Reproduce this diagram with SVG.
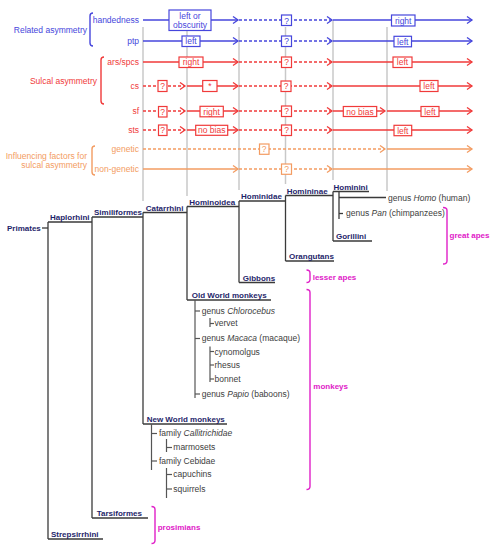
<svg xmlns="http://www.w3.org/2000/svg" width="496" height="550" viewBox="0 0 496 550">
<style>
text{font-family:"Liberation Sans",Arial,sans-serif;font-size:8.5px}
.tb{fill:#4646dc}.tr{fill:#f03a3a}.to{fill:#f39c62}
.nv{fill:#1f1f6b;font-weight:bold;font-size:8px}
.mg{fill:#e020c8;font-weight:bold;font-size:8px}
.tx{fill:#404040}
.m{text-anchor:middle}.e{text-anchor:end}
.ln{fill:none;stroke-width:1.5}
.B{stroke:#4646dc}.R{stroke:#f03a3a}.O{stroke:#f39c62}
.d{stroke-dasharray:3,2}
.bx{fill:#fff;stroke-width:1.2}
.gr{stroke:#c8c8c8;stroke-width:1.5;fill:none}
.tree{stroke:#3a3a3a;stroke-width:1.3;fill:none}
.sub{stroke:#555;stroke-width:1.2;fill:none}
.br{fill:none;stroke-width:1.4}
.mb{stroke:#e020c8}
</style>
<defs>
<marker id="aB" markerUnits="userSpaceOnUse" markerWidth="8" markerHeight="9" refX="6.5" refY="4.5" orient="auto"><path d="M1.5,1 L6.5,4.5 L1.5,8" fill="none" stroke="#4646dc" stroke-width="1.3"/></marker>
<marker id="aR" markerUnits="userSpaceOnUse" markerWidth="8" markerHeight="9" refX="6.5" refY="4.5" orient="auto"><path d="M1.5,1 L6.5,4.5 L1.5,8" fill="none" stroke="#f03a3a" stroke-width="1.3"/></marker>
<marker id="aO" markerUnits="userSpaceOnUse" markerWidth="8" markerHeight="9" refX="6.5" refY="4.5" orient="auto"><path d="M1.5,1 L6.5,4.5 L1.5,8" fill="none" stroke="#f39c62" stroke-width="1.3"/></marker>
</defs>

<!-- gray vertical guide lines -->
<g id="guides" class="gr">
<line x1="143" y1="27" x2="143" y2="201"/>
<line x1="187" y1="27" x2="187" y2="196"/>
<line x1="239" y1="27" x2="239" y2="190"/>
<line x1="285.5" y1="27" x2="285.5" y2="184"/>
<line x1="333" y1="20" x2="333" y2="180"/>
<line x1="387" y1="27" x2="387" y2="191"/>
</g>

<!-- left labels -->
<g id="label-related">
<text class="tb e" x="87" y="33">Related asymmetry</text>
<path class="br B" d="M93,13 Q90,13 90,16 V43 Q90,46 93,46"/>
</g>
<g id="label-sulcal">
<text class="tr e" x="97" y="84">Sulcal asymmetry</text>
<path class="br R" d="M104,57 Q101,57 101,60 V101 Q101,104 104,104"/>
</g>
<g id="label-factors">
<text class="to e" x="87" y="158.5">Influencing factors for</text>
<text class="to e" x="87" y="167.5">sulcal asymmetry</text>
<path class="br O" d="M95,146 Q92,146 92,149 V172 Q92,175 95,175"/>
</g>

<!-- connectors: trait arrows and tree -->
<g id="connectors">
<!-- handedness -->
<line class="ln B" x1="143" y1="20" x2="238" y2="20" marker-end="url(#aB)"/>
<line class="ln B d" x1="239" y1="20" x2="332" y2="20" marker-end="url(#aB)"/>
<line class="ln B" x1="333" y1="20" x2="472" y2="20" marker-end="url(#aB)"/>
<!-- ptp -->
<line class="ln B" x1="143" y1="41" x2="238" y2="41" marker-end="url(#aB)"/>
<line class="ln B d" x1="239" y1="41" x2="332" y2="41" marker-end="url(#aB)"/>
<line class="ln B" x1="333" y1="41" x2="472" y2="41" marker-end="url(#aB)"/>
<!-- ars/spcs -->
<line class="ln R" x1="143" y1="62" x2="238" y2="62" marker-end="url(#aR)"/>
<line class="ln R d" x1="239" y1="62" x2="332" y2="62" marker-end="url(#aR)"/>
<line class="ln R" x1="333" y1="62" x2="472" y2="62" marker-end="url(#aR)"/>
<!-- cs -->
<line class="ln R d" x1="143" y1="86" x2="185" y2="86" marker-end="url(#aR)"/>
<line class="ln R" x1="187" y1="86" x2="238" y2="86" marker-end="url(#aR)"/>
<line class="ln R d" x1="239" y1="86" x2="332" y2="86" marker-end="url(#aR)"/>
<line class="ln R" x1="333" y1="86" x2="472" y2="86" marker-end="url(#aR)"/>
<!-- sf -->
<line class="ln R d" x1="143" y1="111" x2="185" y2="111" marker-end="url(#aR)"/>
<line class="ln R" x1="187" y1="111" x2="238" y2="111" marker-end="url(#aR)"/>
<line class="ln R d" x1="239" y1="111" x2="332" y2="111" marker-end="url(#aR)"/>
<line class="ln R" x1="333" y1="111" x2="385" y2="111" marker-end="url(#aR)"/>
<line class="ln R" x1="387" y1="111" x2="472" y2="111" marker-end="url(#aR)"/>
<!-- sts -->
<line class="ln R d" x1="143" y1="130" x2="185" y2="130" marker-end="url(#aR)"/>
<line class="ln R" x1="187" y1="130" x2="238" y2="130" marker-end="url(#aR)"/>
<line class="ln R d" x1="239" y1="130" x2="332" y2="130" marker-end="url(#aR)"/>
<line class="ln R" x1="333" y1="130" x2="472" y2="130" marker-end="url(#aR)"/>
<!-- genetic -->
<line class="ln O d" x1="143" y1="149" x2="385" y2="149" marker-end="url(#aO)"/>
<line class="ln O" x1="387" y1="149" x2="472" y2="149" marker-end="url(#aO)"/>
<!-- non-genetic -->
<line class="ln O" x1="143" y1="169" x2="238" y2="169" marker-end="url(#aO)"/>
<line class="ln O d" x1="239" y1="169" x2="332" y2="169" marker-end="url(#aO)"/>
<line class="ln O" x1="333" y1="169" x2="472" y2="169" marker-end="url(#aO)"/>

<!-- tree -->
<g class="tree">
<line x1="42" y1="228" x2="48" y2="228"/>
<line x1="48" y1="222" x2="48" y2="539"/>
<line x1="48" y1="222" x2="92" y2="222"/>
<line x1="48" y1="539" x2="103" y2="539"/>
<line x1="92" y1="217" x2="92" y2="518"/>
<line x1="92" y1="217" x2="143" y2="217"/>
<line x1="92" y1="518" x2="148" y2="518"/>
<line x1="143" y1="212.5" x2="143" y2="424"/>
<line x1="143" y1="212.5" x2="187" y2="212.5"/>
<line x1="143" y1="424" x2="227" y2="424"/>
<line x1="187" y1="206.5" x2="187" y2="300"/>
<line x1="187" y1="206.5" x2="239" y2="206.5"/>
<line x1="187" y1="300" x2="271" y2="300"/>
<line x1="239" y1="201" x2="239" y2="282.5"/>
<line x1="239" y1="201" x2="285.5" y2="201"/>
<line x1="239" y1="282.5" x2="275" y2="282.5"/>
<line x1="285.5" y1="195.5" x2="285.5" y2="261"/>
<line x1="285.5" y1="195.5" x2="333" y2="195.5"/>
<line x1="285.5" y1="261" x2="334" y2="261"/>
<line x1="333" y1="191.5" x2="333" y2="241"/>
<line x1="333" y1="191.5" x2="369" y2="191.5"/>
<line x1="333" y1="241" x2="372" y2="241"/>
<line x1="339" y1="191.5" x2="339" y2="219"/>
<line x1="339" y1="197.5" x2="386" y2="197.5"/>
<line x1="339" y1="213.5" x2="343" y2="213.5"/>
</g>
<g class="sub">
<line x1="195" y1="300" x2="195" y2="398"/>
<line x1="195" y1="311" x2="200" y2="311"/>
<line x1="195" y1="338.5" x2="200" y2="338.5"/>
<line x1="195" y1="394" x2="200" y2="394"/>
<line x1="210" y1="318" x2="210" y2="327"/>
<line x1="210" y1="323.5" x2="214" y2="323.5"/>
<line x1="210" y1="346.5" x2="210" y2="382"/>
<line x1="210" y1="351.5" x2="214" y2="351.5"/>
<line x1="210" y1="365" x2="214" y2="365"/>
<line x1="210" y1="379" x2="214" y2="379"/>
<line x1="151.5" y1="424" x2="151.5" y2="470"/>
<line x1="151.5" y1="433.5" x2="157" y2="433.5"/>
<line x1="151.5" y1="461" x2="157" y2="461"/>
<line x1="166.5" y1="439" x2="166.5" y2="452"/>
<line x1="166.5" y1="447.5" x2="172" y2="447.5"/>
<line x1="166.5" y1="468" x2="166.5" y2="498"/>
<line x1="166.5" y1="474.5" x2="172" y2="474.5"/>
<line x1="166.5" y1="489" x2="172" y2="489"/>
</g>
</g>

<!-- row labels -->
<g id="row-handedness"><text class="tb e" x="139" y="23">handedness</text></g>
<g id="row-ptp"><text class="tb e" x="139" y="44">ptp</text></g>
<g id="row-ars"><text class="tr e" x="139" y="65">ars/spcs</text></g>
<g id="row-cs"><text class="tr e" x="139" y="89">cs</text></g>
<g id="row-sf"><text class="tr e" x="139" y="114">sf</text></g>
<g id="row-sts"><text class="tr e" x="139" y="133">sts</text></g>
<g id="row-genetic"><text class="to e" x="139" y="152">genetic</text></g>
<g id="row-nongenetic"><text class="to e" x="139" y="172">non-genetic</text></g>

<!-- value boxes -->
<g id="hand-1"><rect class="bx B" x="169" y="10" width="42" height="20.5"/><text class="tb m" x="190" y="18.5">left or</text><text class="tb m" x="190" y="27.5">obscurity</text></g>
<g id="hand-2"><rect class="bx B" x="281.5" y="15" width="10" height="10.5"/><text class="tb m" x="286.5" y="23.5">?</text></g>
<g id="hand-3"><rect class="bx B" x="391.5" y="15" width="23.5" height="11"/><text class="tb m" x="403.2" y="23.5">right</text></g>

<g id="ptp-1"><rect class="bx B" x="182" y="36" width="18" height="10.5"/><text class="tb m" x="191" y="44.2">left</text></g>
<g id="ptp-2"><rect class="bx B" x="281.5" y="36" width="10" height="10.5"/><text class="tb m" x="286.5" y="44.2">?</text></g>
<g id="ptp-3"><rect class="bx B" x="394" y="36.3" width="17.5" height="10.5"/><text class="tb m" x="402.7" y="44.5">left</text></g>

<g id="ars-1"><rect class="bx R" x="179" y="57" width="24" height="10.5"/><text class="tr m" x="191" y="65.2">right</text></g>
<g id="ars-2"><rect class="bx R" x="281.5" y="57" width="10" height="10.5"/><text class="tr m" x="286.5" y="65.2">?</text></g>
<g id="ars-3"><rect class="bx R" x="393" y="57" width="19" height="10.5"/><text class="tr m" x="402.5" y="65.2">left</text></g>

<g id="cs-1"><rect class="bx R" x="158" y="80.5" width="9" height="11"/><text class="tr m" x="162.5" y="89">?</text></g>
<g id="cs-2"><rect class="bx R" x="202.7" y="80.5" width="14.3" height="11"/><text class="tr m" x="209.8" y="89">*</text></g>
<g id="cs-3"><rect class="bx R" x="281" y="81" width="10" height="10.5"/><text class="tr m" x="286" y="89.2">?</text></g>
<g id="cs-4"><rect class="bx R" x="420" y="80.5" width="18" height="11"/><text class="tr m" x="429" y="89">left</text></g>

<g id="sf-1"><rect class="bx R" x="158.5" y="106.5" width="8.5" height="10.5"/><text class="tr m" x="162.7" y="114.5">?</text></g>
<g id="sf-2"><rect class="bx R" x="200" y="106.3" width="23.3" height="10.5"/><text class="tr m" x="211.6" y="114.5">right</text></g>
<g id="sf-3"><rect class="bx R" x="281.5" y="106" width="10" height="10.5"/><text class="tr m" x="286.5" y="114.2">?</text></g>
<g id="sf-4"><rect class="bx R" x="343.3" y="106.5" width="33.4" height="10"/><text class="tr m" x="360" y="114.5">no bias</text></g>
<g id="sf-5"><rect class="bx R" x="421" y="106.5" width="18" height="10"/><text class="tr m" x="430" y="114.5">left</text></g>

<g id="sts-1"><rect class="bx R" x="158.5" y="125" width="8.5" height="10.5"/><text class="tr m" x="162.7" y="133.2">?</text></g>
<g id="sts-2"><rect class="bx R" x="195.7" y="125.3" width="32" height="10"/><text class="tr m" x="211.7" y="133.3">no bias</text></g>
<g id="sts-3"><rect class="bx R" x="281.5" y="125" width="10" height="10.5"/><text class="tr m" x="286.5" y="133.2">?</text></g>
<g id="sts-4"><rect class="bx R" x="394" y="125.3" width="17.7" height="10.4"/><text class="tr m" x="402.8" y="133.5">left</text></g>

<g id="gen-1"><rect class="bx O" x="259.5" y="144" width="9.5" height="10.3"/><text class="to m" x="264.2" y="152.2">?</text></g>
<g id="ngen-1"><rect class="bx O" x="281.5" y="164" width="10" height="10.3"/><text class="to m" x="286.5" y="172.2">?</text></g>

<!-- tree nodes -->
<g id="primates"><text class="nv" x="7" y="230.5">Primates</text></g>
<g id="haplorhini"><text class="nv" x="50" y="220">Haplorhini</text></g>
<g id="similiformes"><text class="nv" x="94" y="215.3">Similiformes</text></g>
<g id="catarrhini"><text class="nv" x="145.7" y="210.5">Catarrhini</text></g>
<g id="hominoidea"><text class="nv" x="189.3" y="204.5">Hominoidea</text></g>
<g id="hominidae"><text class="nv" x="241" y="199">Hominidae</text></g>
<g id="homininae"><text class="nv" x="286.7" y="193.5">Homininae</text></g>
<g id="hominini"><text class="nv" x="333.5" y="189.5">Hominini</text></g>
<g id="gorillini"><text class="nv" x="336" y="239">Gorillini</text></g>
<g id="orangutans"><text class="nv" x="289" y="259">Orangutans</text></g>
<g id="gibbons"><text class="nv" x="242.7" y="280.5">Gibbons</text></g>
<g id="owm"><text class="nv" x="191.7" y="298">Old World monkeys</text></g>
<g id="nwm"><text class="nv" x="146.7" y="422">New World monkeys</text></g>
<g id="tarsiformes"><text class="nv" x="96.7" y="516">Tarsiformes</text></g>
<g id="strepsirrhini"><text class="nv" x="51" y="537">Strepsirrhini</text></g>

<g id="homo"><text class="tx" x="388" y="201.3">genus <tspan font-style="italic">Homo</tspan> (human)</text></g>
<g id="pan"><text class="tx" x="346" y="215.7">genus <tspan font-style="italic">Pan</tspan> (chimpanzees)</text></g>
<g id="chlorocebus"><text class="tx" x="201.7" y="314">genus <tspan font-style="italic">Chlorocebus</tspan></text></g>
<g id="vervet"><text class="tx" x="214.5" y="326.3">vervet</text></g>
<g id="macaca"><text class="tx" x="201.7" y="341.3">genus <tspan font-style="italic">Macaca</tspan> (macaque)</text></g>
<g id="cynomolgus"><text class="tx" x="214.5" y="354.7">cynomolgus</text></g>
<g id="rhesus"><text class="tx" x="214.5" y="368">rhesus</text></g>
<g id="bonnet"><text class="tx" x="214.5" y="382">bonnet</text></g>
<g id="papio"><text class="tx" x="201.7" y="397">genus <tspan font-style="italic">Papio</tspan> (baboons)</text></g>
<g id="callitrichidae"><text class="tx" x="159" y="436.3">family <tspan font-style="italic">Callitrichidae</tspan></text></g>
<g id="marmosets"><text class="tx" x="173.3" y="450.3">marmosets</text></g>
<g id="cebidae"><text class="tx" x="159" y="464">family Cebidae</text></g>
<g id="capuchins"><text class="tx" x="173.3" y="477.3">capuchins</text></g>
<g id="squirrels"><text class="tx" x="173.3" y="492">squirrels</text></g>

<!-- group brackets -->
<g id="great-apes"><path class="br mb" d="M443,207.5 Q447,207.5 447,210.5 V261 Q447,264 443,264"/><text class="mg" x="449.5" y="238">great apes</text></g>
<g id="lesser-apes"><path class="br mb" d="M306.5,270 Q310,270 310,273 V279.5 Q310,282.5 306.5,282.5"/><text class="mg" x="312.7" y="280.3">lesser apes</text></g>
<g id="monkeys"><path class="br mb" d="M306.5,289.5 Q310,289.5 310,292.5 V486.5 Q310,489.5 306.5,489.5"/><text class="mg" x="313.3" y="389">monkeys</text></g>
<g id="prosimians"><path class="br mb" d="M151.5,506.5 Q155,506.5 155,509.5 V540.5 Q155,543.5 151.5,543.5"/><text class="mg" x="157.7" y="529.7">prosimians</text></g>
</svg>
